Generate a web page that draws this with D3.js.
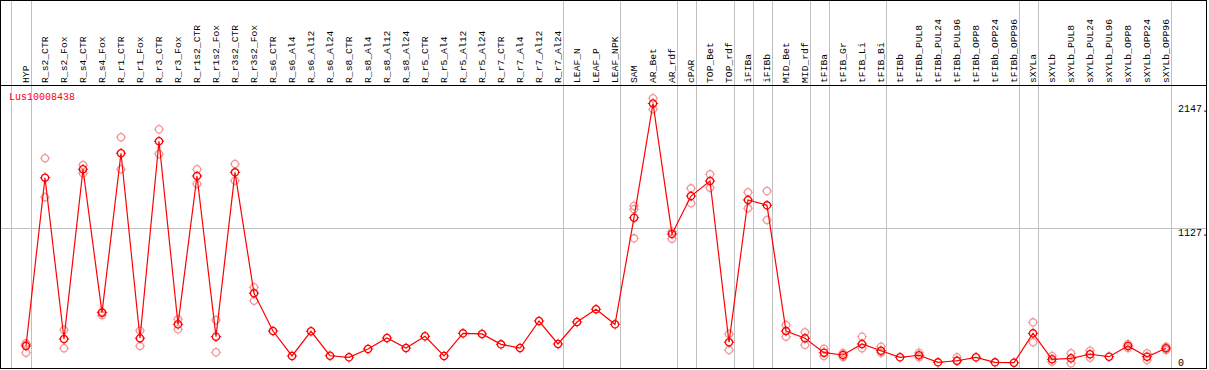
<!DOCTYPE html>
<html><head><meta charset="utf-8">
<script src="https://cdn.jsdelivr.net/npm/d3@7"></script>
<style>html,body{margin:0;padding:0;background:#fff;}svg{display:block;}</style>
</head><body><svg id="c" width="1209" height="370"></svg>
<script>
const categories = ["HYP","R_s2_CTR","R_s2_Fox","R_s4_CTR","R_s4_Fox","R_r1_CTR","R_r1_Fox","R_r3_CTR","R_r3_Fox","R_r1s2_CTR","R_r1s2_Fox","R_r3s2_CTR","R_r3s2_Fox","R_s6_CTR","R_s6_Al4","R_s6_Al12","R_s6_Al24","R_s8_CTR","R_s8_Al4","R_s8_Al12","R_s8_Al24","R_r5_CTR","R_r5_Al4","R_r5_Al12","R_r5_Al24","R_r7_CTR","R_r7_Al4","R_r7_Al12","R_r7_Al24","LEAF_N","LEAF_P","LEAF_NPK","SAM","AR_Bet","AR_rdf","cPAR","TOP_Bet","TOP_rdf","iFIBa","iFIBb","MID_Bet","MID_rdf","tFIBa","tFIB_Gr","tFIB_Li","tFIB_Bi","tFIBb","tFIBb_PUL8","tFIBb_PUL24","tFIBb_PUL96","tFIBb_OPP8","tFIBb_OPP24","tFIBb_OPP96","sXYLa","sXYLb","sXYLb_PUL8","sXYLb_PUL24","sXYLb_PUL96","sXYLb_OPP8","sXYLb_OPP24","sXYLb_OPP96"];
const meanValues = [164,1540,221,1609,436,1740,227,1838,341,1554,240,1584,595,286,82,284,84,71,139,229,147,243,82,267,262,177,147,368,180,360,464,341,1213,2147,1080,1390,1513,194,1358,1314,286,227,109,90,180,125,71,88,30,43,71,30,27,267,55,63,96,76,164,76,145];
const repHigh = [186,1699,294,1644,444,1871,289,1936,382,1609,376,1652,644,null,null,null,null,null,null,null,null,null,null,null,null,null,null,null,null,null,null,null,1309,2190,1098,1453,1568,262,1421,1431,335,276,141,106,240,158,null,109,null,71,null,null,null,357,82,104,125,null,180,104,158];
const repLow = [109,1380,145,1576,415,1609,164,1734,300,1489,112,1516,534,null,null,null,null,null,null,null,null,null,null,null,null,null,null,null,null,null,null,null,1044,2100,1041,1331,1458,131,1290,1194,240,172,82,74,145,109,null,71,null,41,null,null,null,194,35,22,68,null,147,49,131];
const repMid = [176,null,null,null,null,null,null,null,null,null,null,null,null,null,null,null,null,null,null,null,null,null,null,null,null,null,null,null,null,null,null,null,1282,null,null,null,null,null,null,null,null,null,null,null,null,null,null,null,null,null,null,null,null,null,null,null,null,null,null,null,null];
const groupEnds = ["HYP","R_r7_Al24","LEAF_NPK","AR_rdf","cPAR","TOP_rdf","iFIBa","iFIBb","MID_rdf","tFIBa","tFIB_Bi","tFIBb_OPP96","sXYLa","sXYLb_OPP96"];
const tickValues = [0,1127,2147];
const tickLabels = ["0","1127.","2147."];
const seriesName = "Lus10008438";

const svg = d3.select("#c");
const font = "'Liberation Mono', 'DejaVu Sans Mono', monospace";
const x = d3.scalePoint().domain(categories).range([26, 1166]);
const y = d3.scaleLinear().domain([0, 2147]).range([366, 103.5]);
const gray = "#c0c0c0";

svg.append("line").attr("x1",1).attr("x2",1206).attr("y1",Math.round(y(1127))+0.5).attr("y2",Math.round(y(1127))+0.5)
  .attr("stroke",gray).attr("stroke-width",1);

const sepX = [x("HYP") - 15.3].concat(groupEnds.map(c => x(c) + 4.7));
svg.selectAll("line.sep").data(sepX).enter().append("line").attr("class","sep")
  .attr("x1",d=>Math.round(d)+0.5).attr("x2",d=>Math.round(d)+0.5).attr("y1",0).attr("y2",368)
  .attr("stroke",gray).attr("stroke-width",1);

svg.append("line").attr("x1",0).attr("x2",1207).attr("y1",0.5).attr("y2",0.5).attr("stroke","#000");
svg.append("line").attr("x1",0).attr("x2",1207).attr("y1",85.5).attr("y2",85.5).attr("stroke","#000");
svg.append("line").attr("x1",0).attr("x2",1207).attr("y1",368.5).attr("y2",368.5).attr("stroke","#000");
svg.append("line").attr("x1",0.5).attr("x2",0.5).attr("y1",0).attr("y2",369).attr("stroke","#000");
svg.append("line").attr("x1",1206.5).attr("x2",1206.5).attr("y1",0).attr("y2",369).attr("stroke","#000");

svg.selectAll("text.cat").data(categories).enter().append("text").attr("class","cat")
  .attr("transform",d=>`translate(${x(d)+3},83) rotate(-90)`)
  .attr("font-family",font).attr("font-size","9.7px").attr("fill","#000").text(d=>d);

svg.selectAll("text.tick").data(tickValues).enter().append("text").attr("class","tick")
  .attr("x",1178).attr("y",(d,i)=> i===0 ? 366 : y(d)+8)
  .attr("font-family",font).attr("font-size","10px").attr("fill","#000")
  .text((d,i)=>tickLabels[i]);

svg.append("text").attr("x",9).attr("y",100).attr("font-family",font).attr("font-size","10px")
  .attr("fill","#ff0000").text(seriesName);

function marker(g, cx, cy, color) {
  const m = g.append("g").attr("transform",`translate(${cx},${cy})`).attr("stroke",color).attr("fill","none");
  m.append("circle").attr("r",3.6).attr("stroke-width",1.3);
  [[0,-1],[0,1],[-1,0],[1,0]].forEach(([dx,dy])=>{
    m.append("line").attr("x1",dx*3.6).attr("y1",dy*3.6).attr("x2",dx*5.2).attr("y2",dy*5.2).attr("stroke-width",1);
  });
}

const light = "#f29a9a";
const gL = svg.append("g");
[repHigh, repLow, repMid].forEach(arr => {
  arr.forEach((v,i) => { if (v !== null) marker(gL, x(categories[i]), y(v), light); });
});

const line = d3.line().x((d,i)=>x(categories[i])).y(d=>y(d));
svg.append("path").datum(meanValues).attr("d",line).attr("fill","none").attr("stroke","#ff0000").attr("stroke-width",1.2);

const gM = svg.append("g");
meanValues.forEach((v,i)=> marker(gM, x(categories[i]), y(v), "#ff0000"));
</script></body></html>
